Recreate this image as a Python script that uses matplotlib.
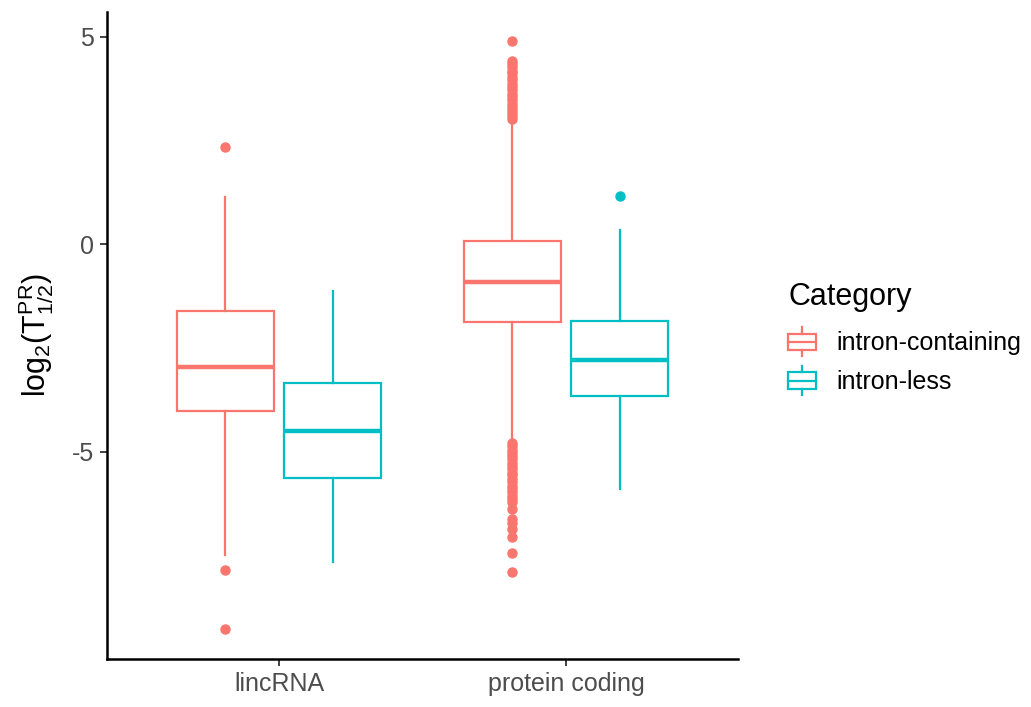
import matplotlib
matplotlib.use('Agg')
import matplotlib.pyplot as plt
from matplotlib.patches import Rectangle
from matplotlib.lines import Line2D
from matplotlib.legend_handler import HandlerBase

plt.rcParams['font.family'] = ['Liberation Sans', 'DejaVu Sans']
plt.rcParams['mathtext.fontset'] = 'custom'
plt.rcParams['mathtext.rm'] = 'Liberation Sans'
plt.rcParams['mathtext.it'] = 'Liberation Sans'

# --- Data ---
categories = ['lincRNA', 'protein coding']
groups = ['intron-containing', 'intron-less']
colors = ['#F8766D', '#00BFC4']

# box stats per group, one entry per category
whislo = {'intron-containing': [-7.48, -4.77], 'intron-less': [-7.66, -5.90]}
q1 = {'intron-containing': [-4.02, -1.88], 'intron-less': [-5.64, -3.65]}
med = {'intron-containing': [-2.96, -0.90], 'intron-less': [-4.49, -2.80]}
q3 = {'intron-containing': [-1.61, 0.07], 'intron-less': [-3.34, -1.84]}
whishi = {'intron-containing': [1.13, 2.98], 'intron-less': [-1.14, 0.34]}

linc_ic_out = [2.33, -7.85, -9.27]
pc_ic_out_hi = [4.88, 4.41, 4.34, 4.27, 4.18, 4.11, 4.02, 3.95, 3.86, 3.79, 3.70,
                3.62, 3.55, 3.47, 3.38, 3.31, 3.22, 3.15, 3.08, 3.02]
pc_ic_out_lo = [-4.80, -4.87, -4.95, -5.02, -5.11, -5.18, -5.26, -5.35, -5.42,
                -5.50, -5.57, -5.66, -5.73, -5.82, -5.89, -5.97, -6.06, -6.13,
                -6.21, -6.38, -6.63, -6.72, -6.85, -7.05, -7.43, -7.89]
pc_il_out = [1.15]
fliers = {'intron-containing': [linc_ic_out, pc_ic_out_hi + pc_ic_out_lo],
          'intron-less': [[], pc_il_out]}

# --- Plot ---
fig = plt.figure(figsize=(10.31, 7.07), dpi=100)
ax = fig.add_axes([107 / 1031, 48 / 707, 631 / 1031, 647 / 707])

dodge = 0.375
box_w = 0.3375
lw = 1.6

for j, grp in enumerate(groups):
    c = colors[j]
    stats = []
    for k in range(len(categories)):
        stats.append(dict(whislo=whislo[grp][k], q1=q1[grp][k], med=med[grp][k],
                          q3=q3[grp][k], whishi=whishi[grp][k], fliers=fliers[grp][k]))
    pos = [k + 1 + (j - 0.5) * dodge for k in range(len(categories))]
    ax.bxp(stats, positions=pos, widths=box_w, showcaps=False, patch_artist=True,
           boxprops=dict(facecolor='white', edgecolor=c, linewidth=lw),
           whiskerprops=dict(color=c, linewidth=lw),
           medianprops=dict(color=c, linewidth=lw * 2, solid_capstyle='butt'),
           flierprops=dict(marker='o', markerfacecolor=c, markeredgecolor=c,
                           markersize=6.5, linestyle='none'))

ax.set_xlim(0.4, 2.6)
ax.set_ylim(-9.99, 5.59)
ax.set_xticks([1, 2])
ax.set_xticklabels(categories)
ax.set_yticks([-5, 0, 5])
ax.set_yticklabels(['-5', '0', '5'])
ax.tick_params(axis='both', labelsize=18, labelcolor='#4D4D4D', color='#333333',
               length=5, width=1.3, pad=4.5)

for s in ['top', 'right']:
    ax.spines[s].set_visible(False)
for s in ['left', 'bottom']:
    ax.spines[s].set_linewidth(1.8)
    ax.spines[s].set_color('black')

ax.set_ylabel(r'$\mathrm{log_2(T_{1/2}^{PR})}$', fontsize=22, color='black', labelpad=11)


# legend key drawn as a miniature box plot
class BoxKey(HandlerBase):
    def create_artists(self, legend, orig_handle, xd, yd, w, h, fontsize, trans):
        c = orig_handle.get_edgecolor()
        x0, y0 = -xd, -yd
        cx = x0 + w / 2
        bh = h * 0.58
        by = y0 + (h - bh) / 2
        rect = Rectangle((x0, by), w, bh, facecolor='white', edgecolor=c,
                         linewidth=lw, transform=trans)
        mid = Line2D([x0, x0 + w], [y0 + h / 2] * 2, color=c, lw=lw, transform=trans)
        top = Line2D([cx, cx], [by + bh, y0 + h], color=c, lw=lw, transform=trans)
        bot = Line2D([cx, cx], [y0, by], color=c, lw=lw, transform=trans)
        return [rect, mid, top, bot]


handles = [Rectangle((0, 0), 1, 1, facecolor='white', edgecolor=c) for c in colors]
leg = fig.legend(handles, groups, handler_map={Rectangle: BoxKey()},
                 loc='upper left', bbox_to_anchor=(0.755, 0.615), frameon=False,
                 fontsize=18, title='Category', title_fontsize=22,
                 handlelength=1.12, handleheight=1.4, handletextpad=0.8,
                 labelspacing=0.4, borderaxespad=0)
leg._legend_box.align = 'left'
leg._legend_box.sep = 11

fig.savefig('out.png', dpi=100, facecolor='white')
